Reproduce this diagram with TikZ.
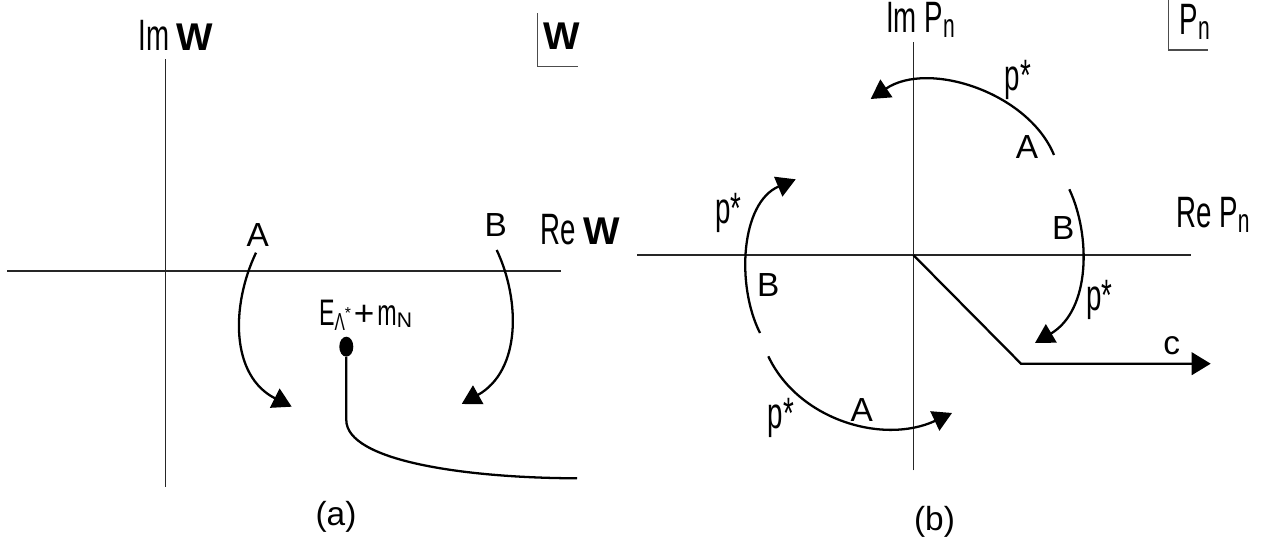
\documentclass[tikz,border=0pt]{standalone}
\usepackage{fontspec}
\setmainfont{Liberation Sans}
\newfontfamily\narrowfont{Liberation Sans}[FakeStretch=0.63]
\usetikzlibrary{arrows.meta,positioning,shapes.geometric}

\newcommand{\bW}{{\normalfont\bfseries\fontsize{22}{24}\selectfont W}}
\newcommand{\Pn}{P\raisebox{-0.12em}{\fontsize{19}{20}\selectfont n}}

\tikzset{
  axis/.style={black!85, line width=0.7pt},
  plain/.style={line width=1.3pt},
  contour/.style={line width=1.3pt, -{Triangle[length=10.8pt,width=12pt]}},
  cornerbox/.style={black!70, line width=0.6pt},
  letter/.style={font=\fontsize{19}{21}\selectfont, inner sep=0pt},
  axlabel/.style={font=\narrowfont\fontsize{25}{28}\selectfont, inner sep=0pt},
  pstar/.style={font=\narrowfont\fontsize{25}{27}\selectfont, inner sep=0pt},
}

\begin{document}
\begin{tikzpicture}[>=Latex]
\useasboundingbox (0,0) rectangle (25.42,10.88);

% Panel (a): W plane
\begin{scope}[shift={(3.314,5.46)}]
  \draw[axis] (0,-4.32) -- (0,4.234);
  \draw[axis] (-3.174,0) -- (7.90,0);
  \node[axlabel] (imw) at (0.2,4.72) {Im\,\bW};
  \node[axlabel] (rew) at (8.286,0.82) {Re\,\bW};
  \draw[cornerbox] (7.432,5.154) -- (7.432,4.086) -- (8.252,4.086);
  \node[inner sep=0pt] (wtag) at (7.912,4.70) {\bW};
  \node[letter] (wa) at (1.84,0.72) {A};
  \node[letter] (wb) at (6.6,0.92) {B};
  \draw[contour] (1.806,0.366) .. controls (1.3,-0.7) and (1.3,-2.1) .. (2.52,-2.714);
  \draw[contour] (6.62,0.42) .. controls (7.1,-0.6) and (7.1,-2.0) .. (5.92,-2.66);
  \node[ellipse, fill, minimum width=0.28cm, minimum height=0.4cm, inner sep=0pt] (pole) at (3.612,-1.514) {};
  \node[inner sep=0pt] (polelab) at (3.996,-0.88)
    {{\narrowfont\fontsize{21}{22}\selectfont E}\raisebox{-0.3em}{\narrowfont\fontsize{14}{15}\selectfont Λ}\raisebox{0.35em}{\fontsize{9}{10}\selectfont *}\,{\fontsize{20}{22}\selectfont +}\,{\narrowfont\fontsize{21}{22}\selectfont m}\raisebox{-0.15em}{\fontsize{12}{13}\selectfont N}};
  \coordinate (cutbend) at (3.612,-2.98);
  \coordinate (cutend) at (8.226,-4.146);
  \draw[plain] (pole.south) -- (cutbend) .. controls (3.612,-3.8) and (6.0,-4.14) .. (cutend);
  \node[letter] (capa) at (3.406,-4.92) {(a)};
\end{scope}

% Panel (b): P_n plane
\begin{scope}[shift={(18.266,5.78)}]
  \draw[axis] (0,-4.306) -- (0,4.266);
  \draw[axis] (-5.52,0) -- (5.548,0);
  \node[axlabel] (impn) at (0.144,4.70) {Im \Pn};
  \node[axlabel] (repn) at (5.994,0.8) {Re \Pn};
  \draw[cornerbox] (5.1,5.1) -- (5.1,4.1) -- (5.9,4.1);
  \node[axlabel] (pntag) at (5.63,4.66) {\Pn};
  % upper right pair
  \draw[contour] (2.814,2.0) .. controls (2.3,3.25) and (0.3,3.9) .. (-0.852,3.12);
  \draw[contour] (3.12,1.314) .. controls (3.55,0.4) and (3.55,-1.1) .. (2.434,-1.76);
  \node[pstar] (ps1) at (2.094,3.5) {p*};
  \node[letter] (pa1) at (2.274,2.166) {A};
  \node[letter] (pb1) at (3.0,0.534) {B};
  \node[pstar] (ps2) at (3.72,-0.906) {p*};
  % lower left pair
  \draw[contour] (-3.066,-1.56) .. controls (-3.55,-0.6) and (-3.45,1.05) .. (-2.352,1.514);
  \draw[contour] (-2.9,-2.026) .. controls (-2.3,-3.3) and (-0.6,-3.8) .. (0.774,-3.16);
  \node[pstar] (ps3) at (-3.7,0.834) {p*};
  \node[letter] (pb2) at (-2.9,-0.606) {B};
  \node[pstar] (ps4) at (-2.646,-3.26) {p*};
  \node[letter] (pa2) at (-1.032,-3.106) {A};
  % cut along c
  \coordinate (ob) at (0,0);
  \coordinate (knee) at (2.154,-2.174);
  \coordinate (cend) at (5.948,-2.174);
  \draw[plain, -{Triangle[length=10.8pt,width=12.8pt]}] (ob) -- (knee) -- (cend);
  \node[letter] (lc) at (5.168,-1.806) {c};
  \node[letter] (capb) at (0.424,-5.33) {(b)};
\end{scope}
\end{tikzpicture}
\end{document}
